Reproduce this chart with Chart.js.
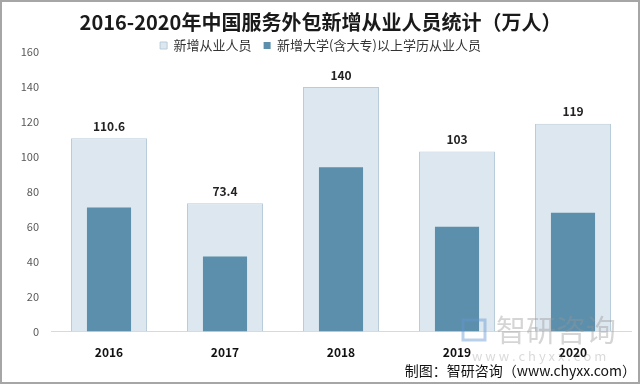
<!DOCTYPE html>
<html>
<head>
<meta charset="utf-8">
<script src="https://cdn.jsdelivr.net/npm/chart.js@4.4.1/dist/chart.umd.min.js"></script>
<style>
  html, body { margin: 0; padding: 0; background: #fff; }
  #wrap { width: 640px; height: 384px; position: relative; }
</style>
</head>
<body>
<div id="wrap"><canvas id="chart" width="640" height="384"></canvas></div>
<script>
// 数据
const years = ['2016', '2017', '2018', '2019', '2020'];
const newStaff = [110.6, 73.4, 140, 103, 119];
const collegeStaff = [71, 43, 94, 60, 68];
const yTicks = [0, 20, 40, 60, 80, 100, 120, 140, 160];

const FONT = '"Noto Sans CJK SC", "Noto Sans", sans-serif';

// 浅色柱顶部数值
const valueLabels = {
    id: 'valueLabels',
    afterDatasetsDraw(chart) {
        const ctx = chart.ctx;
        const meta = chart.getDatasetMeta(1);
        ctx.save();
        ctx.font = 'bold 12px ' + FONT;
        ctx.fillStyle = '#222';
        ctx.textAlign = 'center';
        ctx.textBaseline = 'bottom';
        meta.data.forEach((bar, i) => {
            ctx.fillText(String(newStaff[i]), bar.x, bar.y - 6);
        });
        ctx.restore();
    }
};

// 边框、水印与来源
const decorations = {
    id: 'decorations',
    beforeDraw(chart) {
        const ctx = chart.ctx;
        ctx.save();
        ctx.fillStyle = '#fff';
        ctx.fillRect(0, 0, chart.width, chart.height);
        ctx.restore();
    },
    afterDraw(chart) {
        const ctx = chart.ctx;
        ctx.save();
        // 水印
        ctx.fillStyle = 'rgba(150,150,150,0.4)';
        ctx.font = '30px ' + FONT;
        ctx.textAlign = 'left';
        ctx.textBaseline = 'middle';
        ctx.fillText('智研咨询', 496, 330);
        ctx.strokeStyle = 'rgba(100,150,210,0.45)';
        ctx.lineWidth = 3;
        ctx.strokeRect(463, 320, 22, 20);
        ctx.fillStyle = 'rgba(150,150,150,0.35)';
        ctx.font = '13px ' + FONT;
        ctx.fillText('w w w . c h y x x . c o m', 472, 356);
        // 来源
        ctx.fillStyle = '#111';
        ctx.font = '14px ' + FONT;
        ctx.textAlign = 'right';
        ctx.fillText('制图：智研咨询（www.chyxx.com）', 636, 371);
        // 边框
        ctx.strokeStyle = '#a6a6a6';
        ctx.lineWidth = 2;
        ctx.strokeRect(1, 1, chart.width - 2, chart.height - 2);
        ctx.restore();
    }
};

new Chart(document.getElementById('chart'), {
    type: 'bar',
    data: {
        labels: years,
        datasets: [
            {
                label: '新增大学(含大专)以上学历从业人员',
                data: collegeStaff,
                backgroundColor: '#5b8fac',
                borderWidth: 0,
                barPercentage: 0.38,
                categoryPercentage: 1
            },
            {
                label: '新增从业人员',
                data: newStaff,
                backgroundColor: '#dde7ef',
                borderColor: '#b9ccda',
                borderWidth: 1,
                barPercentage: 0.655,
                categoryPercentage: 1
            }
        ]
    },
    options: {
        responsive: false,
        animation: false,
        layout: { padding: { top: 6, left: 10, right: 9, bottom: 18 } },
        plugins: {
            title: {
                display: true,
                text: '2016-2020年中国服务外包新增从业人员统计（万人）',
                font: { family: FONT, size: 20, weight: 'bold' },
                color: '#1a1a1a',
                padding: { top: 4, bottom: -7 }
            },
            legend: {
                reverse: true,
                maxHeight: 25,
                labels: {
                    font: { family: FONT, size: 13 },
                    color: '#333',
                    boxWidth: 7,
                    boxHeight: 7,
                    padding: 12
                }
            },
            tooltip: { enabled: false }
        },
        scales: {
            x: {
                stacked: true,
                grid: { display: false },
                border: { color: '#d9d9d9' },
                ticks: { font: { family: FONT, size: 12, weight: 'bold' }, color: '#111', padding: 6 }
            },
            y: {
                min: 0,
                max: 160,
                afterBuildTicks(scale) {
                    scale.ticks = yTicks.map(v => ({ value: v }));
                },
                afterFit(scale) { scale.width = 41; },
                grid: { display: false },
                border: { display: false },
                ticks: { font: { family: FONT, size: 11 }, color: '#595959', padding: 4 }
            }
        }
    },
    plugins: [valueLabels, decorations]
});
</script>
</body>
</html>
